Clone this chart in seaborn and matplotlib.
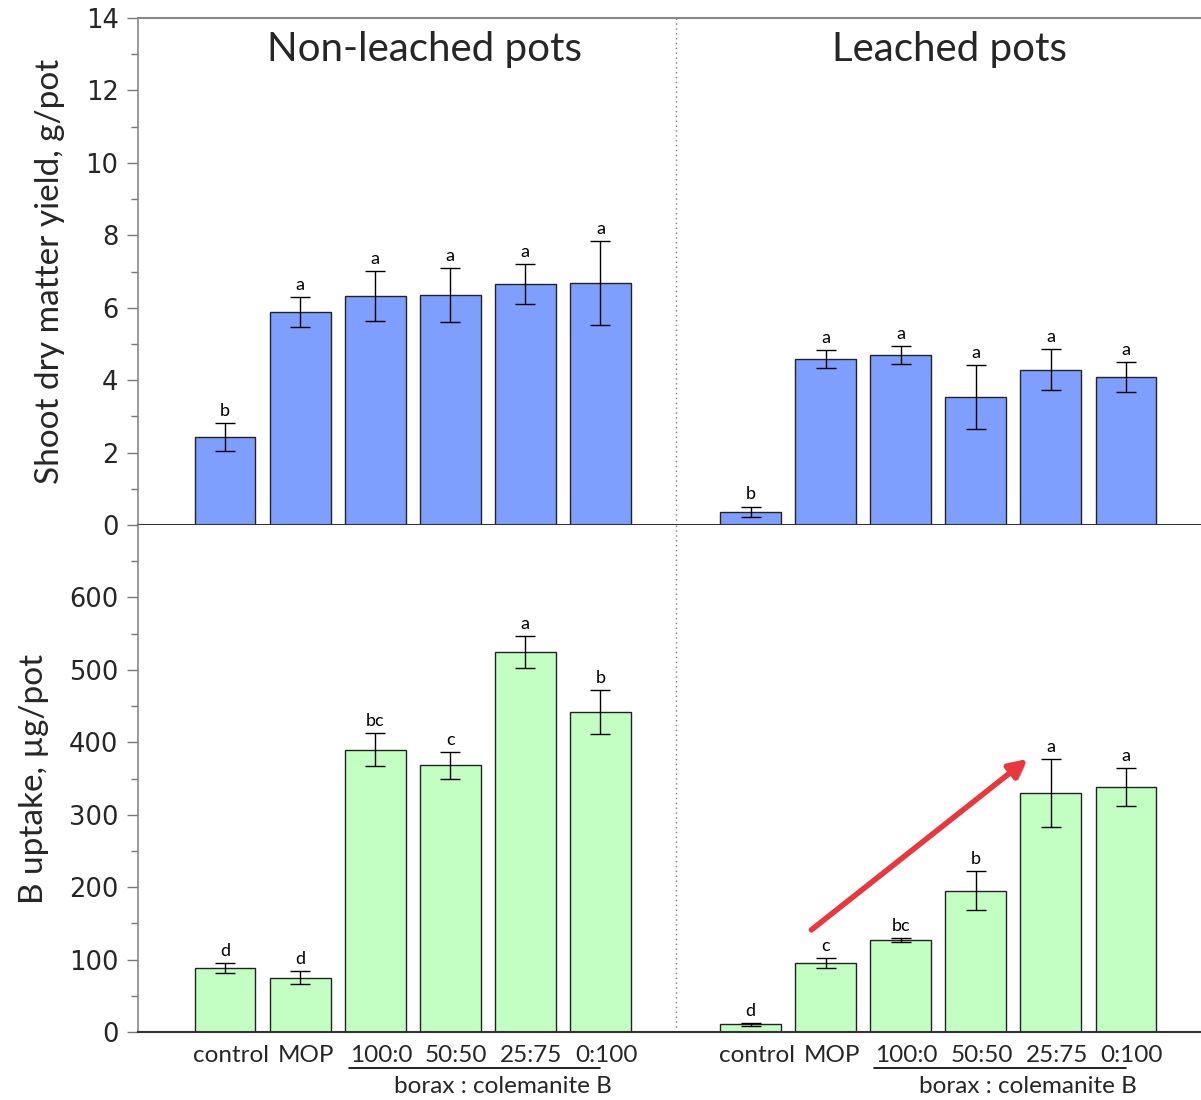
import numpy as np
import pandas as pd
import matplotlib
matplotlib.use("Agg")
import matplotlib.pyplot as plt
import matplotlib.patheffects as pe
import matplotlib.transforms as mtrans
import seaborn as sns

# ---------------- data ----------------
treatments = ["control", "MOP", "100:0", "50:50", "25:75", "0:100"]
groups = ["Non-leached pots", "Leached pots"]

yield_nl = [2.43, 5.88, 6.32, 6.35, 6.66, 6.68]
yield_nl_se = [0.39, 0.41, 0.70, 0.74, 0.55, 1.15]
yield_l = [0.36, 4.58, 4.69, 3.53, 4.29, 4.09]
yield_l_se = [0.15, 0.25, 0.25, 0.89, 0.56, 0.42]

uptake_nl = [88.5, 74.7, 390, 368, 525, 442]
uptake_nl_se = [7, 9, 23, 18, 22, 30]
uptake_l = [10.6, 95, 127, 195, 330, 338]
uptake_l_se = [2, 7, 3, 27, 47, 26]

letters_yield_nl = ["b", "a", "a", "a", "a", "a"]
letters_yield_l = ["b", "a", "a", "a", "a", "a"]
letters_uptake_nl = ["d", "d", "bc", "c", "a", "b"]
letters_uptake_l = ["d", "c", "bc", "b", "a", "a"]

ratio_label = "borax : colemanite B"
ylabel_top = "Shoot dry matter yield, g/pot"
ylabel_bot = "B uptake, µg/pot"

# ---------------- build table ----------------
n = len(treatments)
gap = 7
rows = []
for g, (yv, ys, uv, us, ly, lu) in enumerate([
        (yield_nl, yield_nl_se, uptake_nl, uptake_nl_se, letters_yield_nl, letters_uptake_nl),
        (yield_l, yield_l_se, uptake_l, uptake_l_se, letters_yield_l, letters_uptake_l)]):
    for i, t in enumerate(treatments):
        rows.append(dict(group=groups[g], treatment=t, pos=i + gap * g,
                         yld=yv[i], yld_se=ys[i], upt=uv[i], upt_se=us[i],
                         let_y=ly[i], let_u=lu[i]))
df = pd.DataFrame(rows)

# ---------------- figure ----------------
sns.set_theme(style="white")
plt.rcParams["font.family"] = ["Lato", "DejaVu Sans"]

fig = plt.figure(figsize=(12.01, 11.0), dpi=100)
W, H = 1201.0, 1100.0
left, right = 138 / W, 1.0
ax1 = fig.add_axes([left, 1 - 525 / H, right - left, 507 / H])
ax2 = fig.add_axes([left, 1 - 1032 / H, right - left, 507 / H], sharex=ax1)

col_top = "#7f9fff"
col_bot = "#c3ffc3"
edge = "#222222"

for ax, ycol, secol, lcol, color in [
        (ax1, "yld", "yld_se", "let_y", col_top),
        (ax2, "upt", "upt_se", "let_u", col_bot)]:
    sns.barplot(data=df, x="pos", y=ycol, native_scale=True, width=0.81,
                color=color, edgecolor=edge, linewidth=1.0, saturation=1,
                errorbar=None, ax=ax, zorder=2)
    ax.errorbar(df["pos"], df[ycol], yerr=df[secol], fmt="none",
                ecolor="black", elinewidth=1.0, capsize=7, capthick=1.0, zorder=3)
    for _, r in df.iterrows():
        ax.annotate(r[lcol], (r["pos"], r[ycol] + r[secol]), xytext=(0, 3),
                    textcoords="offset points", ha="center", va="bottom",
                    fontsize=13, color="black", family=["Lato", "DejaVu Sans"])
    ax.set_xlabel("")
    ax.set_ylabel("")

xmin, xmax = -1.16, 13.0
ax1.set_xlim(xmin, xmax)

# y axes
ax1.set_ylim(0, 14)
ax1.set_yticks(np.arange(0, 15, 2))
ax1.set_yticks(np.arange(1, 14, 2), minor=True)
ax2.set_ylim(0, 700)
ax2.set_yticks(np.arange(0, 601, 100))
ax2.set_yticks(np.arange(50, 700, 50), minor=True)

for ax in (ax1, ax2):
    ax.tick_params(axis="y", which="major", direction="out", length=8, width=1,
                   color="#777777", labelsize=18.5, pad=6, left=True,
                   labelfontfamily="DejaVu Sans")
    ax.tick_params(axis="y", which="minor", direction="out", length=5, width=1,
                   color="#777777", left=True)
    ax.spines["right"].set_visible(False)
    ax.spines["left"].set_color("#888888")
    ax.spines["left"].set_linewidth(1.2)
    ax.grid(False)

ax1.spines["top"].set_color("#888888")
ax1.spines["top"].set_linewidth(1.5)
ax1.spines["bottom"].set_color("#333333")
ax1.spines["bottom"].set_linewidth(1.5)
ax2.spines["top"].set_visible(False)
ax2.spines["bottom"].set_color("#333333")
ax2.spines["bottom"].set_linewidth(1.5)

ax1.tick_params(axis="x", bottom=False, labelbottom=False)
ax2.set_xticks(df["pos"].tolist())
ax2.set_xticklabels(df["treatment"].tolist())
ax2.tick_params(axis="x", bottom=False, labelsize=17.5, pad=3)
shift = mtrans.ScaledTranslation(6 / 100.0, 0, fig.dpi_scale_trans)
for lab in ax2.get_xticklabels():
    lab.set_transform(lab.get_transform() + shift)

# y labels
ax1.set_ylabel(ylabel_top, fontsize=24)
ax1.yaxis.set_label_coords(-0.069, 0.5)
ax2.set_ylabel(ylabel_bot, fontsize=24)
ax2.yaxis.set_label_coords(-0.084, 0.5)

# dotted divider between groups
div = (n - 1 + gap) / 2.0
for ax in (ax1, ax2):
    ax.axvline(div, color="#777777", lw=1.0, ls=(0, (1, 2.5)), zorder=1)

# group titles
for g, name in enumerate(groups):
    ax1.text(gap * g + (n - 1) / 2.0 + 0.15, 0.937, name, transform=ax1.get_xaxis_transform(),
             ha="center", va="center", fontsize=29)

# ratio bracket lines + labels
tr = ax2.get_xaxis_transform()
for g in range(2):
    p0 = gap * g + 2 - 0.35
    p1 = gap * g + 5 + 0.0
    ax2.plot([p0, p1], [-0.071, -0.071], transform=tr, color="black", lw=1.2,
             clip_on=False)
    ax2.text((p0 + p1) / 2 + 0.37, -0.108, ratio_label, transform=tr,
             ha="center", va="center", fontsize=17.5)

# red arrow in leached B uptake panel
ax2.annotate("", xy=(gap + 3.69, 377), xytext=(gap + 0.81, 141),
             arrowprops=dict(arrowstyle="-|>,head_length=0.9,head_width=0.45",
                             color="#e8383d", lw=4, shrinkA=0, shrinkB=0,
                             path_effects=[pe.withSimplePatchShadow(offset=(2, -2),
                                                                    alpha=0.3)]),
             zorder=5)

fig.savefig("out.png", dpi=100)
